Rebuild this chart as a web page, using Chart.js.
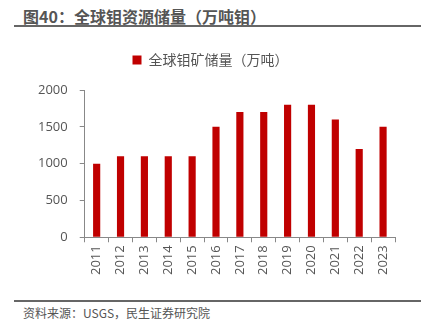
<!DOCTYPE html>
<html>
<head>
<meta charset="utf-8">
<script src="https://cdn.jsdelivr.net/npm/chart.js@4"></script>
<style>
    html, body { margin: 0; padding: 0; background: #fff; }
    body { width: 432px; height: 335px; position: relative; overflow: hidden;
           font-family: "Noto Sans CJK SC", sans-serif; }
    .title { position: absolute; left: 23px; top: 4px; font-size: 16px; font-weight: bold; color: #555; }
    .rule { position: absolute; left: 14px; width: 407px; height: 0; border-top: 2px solid #666; }
    .source { position: absolute; left: 23px; top: 304px; font-size: 12px; color: #555; }
    .wrap { position: absolute; left: 0; top: 43px; width: 432px; height: 235px; }
</style>
</head>
<body>
<div class="title">图40：全球钼资源储量（万吨钼）</div>
<div class="rule" style="top:25px"></div>
<div class="wrap"><canvas id="molyChart"></canvas></div>
<div class="rule" style="top:300px"></div>
<div class="source">资料来源：USGS，民生证券研究院</div>
<script>
const years = ['2011', '2012', '2013', '2014', '2015', '2016', '2017', '2018', '2019', '2020', '2021', '2022', '2023'];
const reserves = [1000, 1100, 1100, 1100, 1100, 1500, 1700, 1700, 1800, 1800, 1600, 1200, 1500];
const yTicks = [0, 500, 1000, 1500, 2000];

// fixed gap under the legend
const legendGap = {
    id: 'legendGap',
    beforeInit(chart) {
        const fit = chart.legend.fit;
        chart.legend.fit = function () {
            fit.bind(chart.legend)();
            this.height = 47;
        };
    }
};

document.addEventListener('DOMContentLoaded', () => {
    const fontFamily = '"Open Sans", "Noto Sans CJK SC", sans-serif';
    const axisColor = '#888';

    new Chart(document.getElementById('molyChart'), {
        type: 'bar',
        data: {
            labels: years,
            datasets: [{
                label: '全球钼矿储量（万吨）',
                data: reserves,
                backgroundColor: '#c00000',
                borderWidth: 0,
                categoryPercentage: 1,
                barPercentage: 0.3
            }]
        },
        options: {
            responsive: true,
            maintainAspectRatio: false,
            animation: false,
            layout: { padding: { left: 26, right: 37, top: 0, bottom: 0 } },
            scales: {
                y: {
                    min: 0,
                    max: 2000,
                    afterBuildTicks: axis => { axis.ticks = yTicks.map(v => ({ value: v })); },
                    border: { color: axisColor, width: 1 },
                    grid: { drawOnChartArea: false, drawTicks: true, tickLength: 5, color: axisColor },
                    ticks: {
                        color: '#555', padding: 12, font: { family: fontFamily, size: 13 },
                        callback: value => String(value)
                    }
                },
                x: {
                    border: { color: axisColor, width: 1 },
                    grid: { drawOnChartArea: false, drawTicks: true, tickLength: 5, color: axisColor, offset: true },
                    ticks: { color: '#555', minRotation: 90, maxRotation: 90, padding: 3, font: { family: fontFamily, size: 13 } }
                }
            },
            plugins: {
                legend: {
                    position: 'top',
                    labels: {
                        color: '#555',
                        boxWidth: 9,
                        boxHeight: 9,
                        padding: 10,
                        font: { family: '"Noto Sans CJK SC", sans-serif', size: 14 }
                    }
                },
                tooltip: { enabled: false }
            }
        },
        plugins: [legendGap]
    });
});
</script>
</body>
</html>
